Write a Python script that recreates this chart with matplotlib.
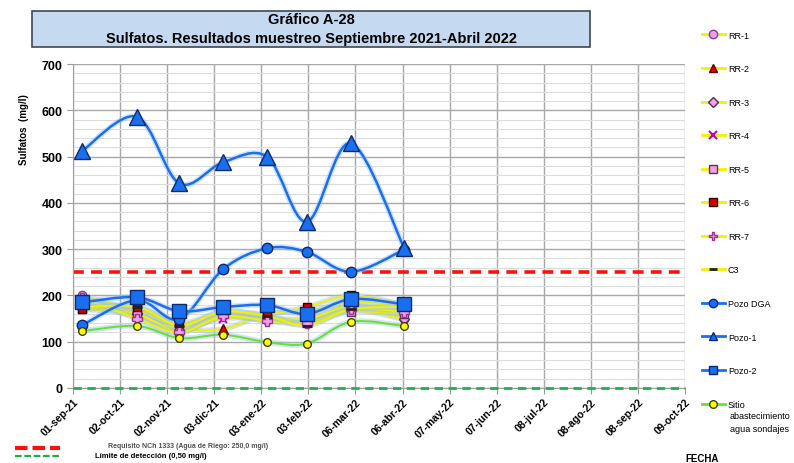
# Grafico A-28: sulfatos, muestreo sep-2021 / abr-2022
import numpy as np
import matplotlib
matplotlib.use('Agg')
import matplotlib.pyplot as plt
import matplotlib.dates as mdates
import matplotlib.patheffects as pe
from matplotlib.path import Path
from matplotlib.patches import PathPatch, Rectangle
from matplotlib.lines import Line2D
from datetime import date, timedelta

plt.rcParams['font.family'] = ['Liberation Sans', 'DejaVu Sans']

# sampling dates
sample_dates = [date(2021, 9, 7), date(2021, 10, 13), date(2021, 11, 10), date(2021, 12, 9),
                date(2022, 1, 7), date(2022, 2, 2), date(2022, 3, 3), date(2022, 4, 7)]

# sulfatos (mg/l)
rr1 = [200, 165, 125, 160, 150, 145, 180, 150]
rr2 = [185, 170, 130, 128, 160, 165, 185, 175]
rr3 = [190, 160, 125, 155, 145, 145, 170, 148]
rr4 = [180, 155, 130, 150, 150, 150, 175, 165]
rr5 = [170, 160, 122, 160, 155, 140, 165, 160]
rr6 = [170, 175, 140, 165, 160, 175, 200, 180]
rr7 = [195, 150, 120, 155, 145, 140, 170, 165]
c3 = [175, 175, 135, 165, 155, 135, 170, 175]
pozo_dga = [136, 190, 149, 257, 302, 294, 251, 299]
pozo_1 = [512, 586, 442, 488, 499, 359, 529, 303]
pozo_2 = [185, 196, 166, 175, 179, 160, 192, 181]
sitio = [123, 134, 108, 115, 99, 96, 143, 134]

nch_limit = 250.0
detection_limit = 0.5

tick_labels = ['01-sep-21', '02-oct-21', '02-nov-21', '03-dic-21', '03-ene-22', '03-feb-22',
               '06-mar-22', '06-abr-22', '07-may-22', '07-jun-22', '08-jul-22', '08-ago-22',
               '08-sep-22', '09-oct-22']

YELLOW = '#f2f200'
BLUE = '#1a6ff0'
GREEN = '#66e22a'
PINK = '#f0a0e8'
GLOW = [pe.Stroke(linewidth=4, foreground='#9cc3f0', alpha=0.45), pe.Normal()]


def smooth_path(xs, ys):
    """cubic bezier through the points (excel-like smoothed line)"""
    pts = np.column_stack([xs, ys])
    verts = [pts[0]]
    codes = [Path.MOVETO]
    n = len(pts)
    for i in range(n - 1):
        p0 = pts[max(i - 1, 0)]
        p1 = pts[i]
        p2 = pts[i + 1]
        p3 = pts[min(i + 2, n - 1)]
        c1 = p1 + (p2 - p0) / 6.0
        c2 = p2 - (p3 - p1) / 6.0
        verts += [c1, c2, p2]
        codes += [Path.CURVE4] * 3
    return Path(verts, codes)


series = [
    ('RR-1', rr1, YELLOW, dict(marker='o', ms=6, mfc=PINK, mec='#8040a0')),
    ('RR-2', rr2, YELLOW, dict(marker='^', ms=7, mfc='#e00000', mec='#600000')),
    ('RR-3', rr3, YELLOW, dict(marker='D', ms=5, mfc=PINK, mec='#503050')),
    ('RR-4', rr4, YELLOW, dict(marker='x', ms=6, mfc='#c000c0', mec='#c000c0', mew=1.5)),
    ('RR-5', rr5, YELLOW, dict(marker='s', ms=6, mfc=PINK, mec='#603060')),
    ('RR-6', rr6, YELLOW, dict(marker='s', ms=6, mfc='#d00000', mec='#300000')),
    ('RR-7', rr7, YELLOW, dict(marker='P', ms=7, mfc=PINK, mec='#a03090')),
    ('C3', c3, YELLOW, dict(marker='_', ms=7, mfc='#202020', mec='#202020', mew=2)),
    ('Pozo DGA', pozo_dga, BLUE, dict(marker='o', ms=7.5, mfc=BLUE, mec='#0a2a70')),
    ('Pozo-1', pozo_1, BLUE, dict(marker='^', ms=11, mfc=BLUE, mec='#0a2a70')),
    ('Pozo-2', pozo_2, BLUE, dict(marker='s', ms=9.5, mfc=BLUE, mec='#0a2a70')),
    ('Sitio', sitio, GREEN, dict(marker='o', ms=5.5, mfc='#ffff00', mec='#404000')),
]

fig = plt.figure(figsize=(7.94, 4.64), dpi=100)
ax = fig.add_axes([73 / 794, 1 - 389 / 464, 612 / 794, 324 / 464])

xnum = mdates.date2num(sample_dates)
tick_dates = [date(2021, 9, 1) + timedelta(days=31 * k) for k in range(len(tick_labels))]
ticks = mdates.date2num(tick_dates)

# grid
ax.set_ylim(0, 700)
ax.set_xlim(ticks[0], ticks[-1])
ax.set_yticks(np.arange(0, 701, 100))
ax.set_yticks(np.arange(0, 701, 20), minor=True)
ax.set_xticks(ticks)
ax.set_xticklabels(tick_labels, rotation=45, ha='right', rotation_mode='anchor',
                   fontsize=7.5, fontweight='bold')
ax.tick_params(axis='y', labelsize=9, length=4, color='#999999')
for lab in ax.get_yticklabels():
    lab.set_fontweight('bold')
ax.tick_params(axis='y', which='minor', length=0)
ax.tick_params(axis='x', length=4, color='#999999', pad=2)
ax.grid(True, which='major', color='#a8a8a8', lw=1.0)
ax.grid(True, which='minor', axis='y', color='#dcdcdc', lw=0.8)
ax.set_axisbelow(True)
for s in ['top', 'right']:
    ax.spines[s].set_visible(False)
for s in ['left', 'bottom']:
    ax.spines[s].set_color('#a0a0a0')

ax.axhline(nch_limit, color='#ff1010', lw=2.6, ls=(0, (3, 2)), zorder=2)
ax.axhline(detection_limit, color='#20b050', lw=2.0, ls=(0, (3, 2)), zorder=5, clip_on=False)

handles = []
for name, vals, col, mk in series:
    lw = 1.8 if col == BLUE else 1.4
    patch = PathPatch(smooth_path(xnum, vals), fill=False, edgecolor=col, lw=lw, zorder=3)
    patch.set_path_effects(GLOW)
    ax.add_patch(patch)
    ax.plot(xnum, vals, ls='none', zorder=4, **mk)
    hmk = dict(mk)
    hmk['ms'] = min(mk['ms'], 6)
    handles.append(Line2D([], [], color=col, lw=2, label=name, **hmk))

ax.set_ylabel('Sulfatos  (mg/l)', fontsize=7, fontweight='bold')
ax.yaxis.set_label_coords(-0.072, 0.8)

fig.legend(handles=handles, loc='upper left', bbox_to_anchor=(698 / 794, 1 - 28 / 464),
           frameon=False, fontsize=6.5, handlelength=2.6, labelspacing=2.72,
           handletextpad=0.3, borderaxespad=0)
fig.text(730 / 794, 1 - 412 / 464, 'abastecimiento\nagua sondajes', ha='left', va='top',
         fontsize=6.5, linespacing=1.5)

# title box
fig.patches.append(Rectangle((32 / 794, 1 - 48 / 464), 558 / 794, 36 / 464,
                             transform=fig.transFigure, facecolor='#c5d9f1',
                             edgecolor='#404850', lw=1.2))
fig.text(311 / 794, 1 - 20 / 464, 'Gráfico A-28', ha='center', va='center',
         fontsize=10.5, fontweight='bold')
fig.text(311 / 794, 1 - 39 / 464, 'Sulfatos. Resultados muestreo Septiembre 2021-Abril 2022',
         ha='center', va='center', fontsize=10.5, fontweight='bold')

# bottom notes
fig.lines.append(Line2D([15 / 794, 60 / 794], [1 - 449 / 464] * 2, transform=fig.transFigure,
                        color='#ff1010', lw=3, ls=(0, (3, 1.2))))
fig.lines.append(Line2D([15 / 794, 60 / 794], [1 - 457 / 464] * 2, transform=fig.transFigure,
                        color='#20b050', lw=1.6, ls=(0, (3, 1.2))))
fig.text(108 / 794, 1 - 447 / 464, 'Requisito NCh 1333 (Agua de Riego: 250,0 mg/l)',
         ha='left', va='center', fontsize=5, fontweight='bold', color='#505050')
fig.text(95 / 794, 1 - 457 / 464, 'Límite de detección (0,50 mg/l)',
         ha='left', va='center', fontsize=5.5, fontweight='bold')
fig.text(685 / 794, 1 - 459 / 464, 'FECHA', ha='left', va='center',
         fontsize=7, fontweight='bold')

plt.savefig('out.png', dpi=100)
